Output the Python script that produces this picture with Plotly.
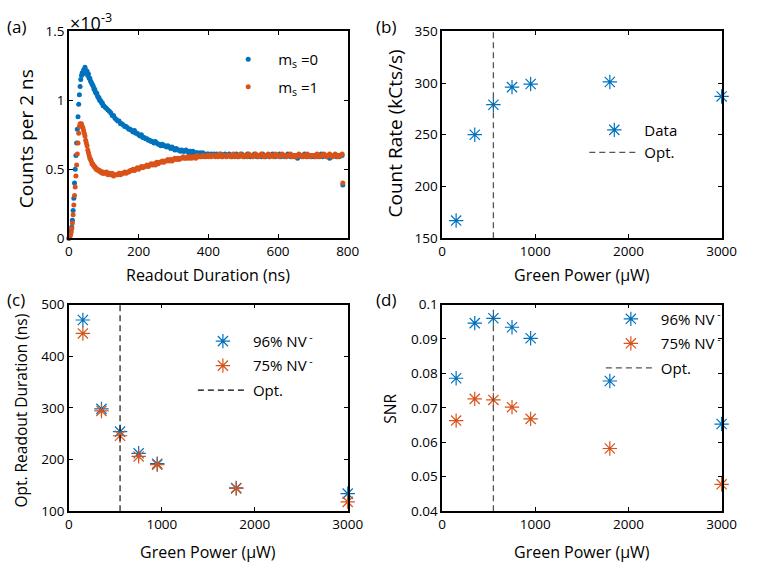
import plotly.graph_objects as go

# ---------------- data ----------------
# (a) readout traces, counts per 2 ns in units of 1e-3
t_early = list(range(0, 100, 2))
t_late = list(range(100, 785, 4))
t_end = [786]
time_ns = t_early + t_late + t_end

ms0_early = [0.00, 0.01, 0.03, 0.05, 0.08, 0.13, 0.20, 0.29, 0.40, 0.50,
             0.60, 0.69, 0.79, 0.88, 0.97, 1.04, 1.10, 1.15, 1.18, 1.20,
             1.19, 1.22, 1.21, 1.24, 1.22, 1.20, 1.21, 1.18, 1.19, 1.16,
             1.16, 1.14, 1.13, 1.12, 1.11, 1.10, 1.08, 1.08, 1.06, 1.05,
             1.05, 1.03, 1.02, 1.02, 1.00, 1.00, 0.99, 0.98, 0.98, 0.96]
ms0_late = [0.96, 0.95, 0.94, 0.93, 0.92, 0.91, 0.89, 0.89, 0.87, 0.86,
            0.85, 0.85, 0.83, 0.83, 0.82, 0.81, 0.81, 0.80, 0.79, 0.79,
            0.78, 0.77, 0.78, 0.76, 0.76, 0.75, 0.74, 0.75, 0.73, 0.73,
            0.72, 0.72, 0.71, 0.71, 0.70, 0.70, 0.69, 0.70, 0.69, 0.68,
            0.68, 0.67, 0.68, 0.67, 0.67, 0.66, 0.67, 0.66, 0.65, 0.66,
            0.65, 0.64, 0.65, 0.64, 0.64, 0.63, 0.64, 0.63, 0.63, 0.64,
            0.63, 0.62, 0.63, 0.62, 0.63, 0.61, 0.62, 0.62, 0.61, 0.62,
            0.61, 0.62, 0.61, 0.60, 0.61, 0.61, 0.60, 0.61, 0.60, 0.61,
            0.60, 0.61, 0.60, 0.60, 0.61, 0.59, 0.60, 0.61, 0.60, 0.60,
            0.61, 0.60, 0.59, 0.60, 0.60, 0.61, 0.59, 0.60, 0.60, 0.61,
            0.60, 0.59, 0.60, 0.61, 0.60, 0.59, 0.60, 0.60, 0.61, 0.60,
            0.59, 0.60, 0.60, 0.59, 0.61, 0.60, 0.59, 0.60, 0.60, 0.59,
            0.60, 0.61, 0.60, 0.59, 0.60, 0.60, 0.61, 0.59, 0.60, 0.60,
            0.59, 0.60, 0.61, 0.60, 0.59, 0.60, 0.60, 0.59, 0.60, 0.58,
            0.59, 0.60, 0.60, 0.59, 0.61, 0.60, 0.59, 0.60, 0.60, 0.59,
            0.60, 0.59, 0.60, 0.60, 0.59, 0.60, 0.61, 0.59, 0.60, 0.60,
            0.59, 0.60, 0.58, 0.60, 0.59, 0.60, 0.60, 0.59, 0.60, 0.59,
            0.60, 0.60]
ms0_end = [0.385]

ms1_early = [0.00, 0.01, 0.02, 0.04, 0.07, 0.11, 0.17, 0.24, 0.31, 0.37,
             0.45, 0.53, 0.61, 0.69, 0.76, 0.81, 0.83, 0.82, 0.83, 0.81,
             0.80, 0.78, 0.76, 0.74, 0.71, 0.69, 0.67, 0.64, 0.62, 0.60,
             0.58, 0.57, 0.56, 0.54, 0.54, 0.53, 0.52, 0.52, 0.51, 0.50,
             0.50, 0.50, 0.49, 0.49, 0.49, 0.48, 0.48, 0.48, 0.47, 0.48]
ms1_late = [0.47, 0.47, 0.48, 0.46, 0.47, 0.46, 0.47, 0.45, 0.46, 0.46,
            0.46, 0.47, 0.46, 0.47, 0.47, 0.48, 0.47, 0.48, 0.48, 0.49,
            0.49, 0.50, 0.49, 0.50, 0.51, 0.50, 0.51, 0.52, 0.51, 0.52,
            0.52, 0.53, 0.52, 0.53, 0.54, 0.53, 0.54, 0.53, 0.55, 0.54,
            0.55, 0.55, 0.56, 0.55, 0.56, 0.56, 0.57, 0.56, 0.57, 0.56,
            0.57, 0.58, 0.57, 0.58, 0.57, 0.58, 0.58, 0.59, 0.58, 0.58,
            0.59, 0.58, 0.59, 0.58, 0.59, 0.59, 0.58, 0.60, 0.59, 0.59,
            0.59, 0.60, 0.59, 0.59, 0.60, 0.59, 0.60, 0.59, 0.60, 0.60,
            0.59, 0.60, 0.59, 0.61, 0.60, 0.59, 0.60, 0.60, 0.59, 0.60,
            0.60, 0.59, 0.60, 0.61, 0.59, 0.60, 0.60, 0.59, 0.61, 0.60,
            0.59, 0.60, 0.60, 0.59, 0.61, 0.60, 0.60, 0.59, 0.60, 0.61,
            0.60, 0.59, 0.60, 0.61, 0.60, 0.59, 0.60, 0.60, 0.61, 0.59,
            0.60, 0.60, 0.59, 0.61, 0.60, 0.60, 0.59, 0.60, 0.61, 0.60,
            0.60, 0.59, 0.60, 0.60, 0.61, 0.59, 0.60, 0.60, 0.59, 0.60,
            0.61, 0.60, 0.59, 0.60, 0.60, 0.59, 0.61, 0.60, 0.59, 0.60,
            0.60, 0.60, 0.59, 0.61, 0.60, 0.59, 0.60, 0.60, 0.61, 0.60,
            0.59, 0.60, 0.61, 0.60, 0.59, 0.60, 0.61, 0.60, 0.59, 0.60,
            0.60, 0.61]
ms1_end = [0.40]

counts_ms0 = ms0_early + ms0_late + ms0_end
counts_ms1 = ms1_early + ms1_late + ms1_end

# (b)-(d) power sweep
green_power = [150, 350, 550, 750, 950, 1800, 3000]
count_rate = [167, 250, 279, 296, 299, 301, 287]
opt_dur_96 = [470, 298, 254, 212, 192, 145, 134]
opt_dur_75 = [444, 294, 246, 206, 190, 144, 118]
snr_96 = [0.0786, 0.0946, 0.0960, 0.0934, 0.0902, 0.0778, 0.0653]
snr_75 = [0.0663, 0.0726, 0.0723, 0.0702, 0.0668, 0.0582, 0.0478]
opt_power = 550

# ---------------- style ----------------
BLUE = "#0072BD"
ORANGE = "#D95319"
FONT = "Open Sans"
TICK_FS = 13.5
XT_FS = 16
LEG_FS = 15

fig = go.Figure()

# (a)
fig.add_trace(go.Scatter(x=time_ns, y=counts_ms0, mode="markers", name="m<sub>s</sub> =0",
                         marker=dict(color=BLUE, size=5), xaxis="x", yaxis="y",
                         legend="legend", legendgroup="a0", cliponaxis=False))
fig.add_trace(go.Scatter(x=time_ns, y=counts_ms1, mode="markers", name="m<sub>s</sub> =1",
                         marker=dict(color=ORANGE, size=5), xaxis="x", yaxis="y",
                         legend="legend", legendgroup="a1", cliponaxis=False))

ast = dict(symbol="asterisk-open", size=12)

# (b)
fig.add_trace(go.Scatter(x=green_power, y=count_rate, mode="markers", name="Data",
                         marker=dict(**ast, color=BLUE, line=dict(color=BLUE, width=1.2)),
                         xaxis="x2", yaxis="y2", legend="legend2", legendgroup="b0", cliponaxis=False))
fig.add_trace(go.Scatter(x=[opt_power, opt_power], y=[150, 350], mode="lines", name="Opt.",
                         line=dict(color="#555555", width=1.3, dash="6px,4px"),
                         xaxis="x2", yaxis="y2", legend="legend2", legendgroup="b1"))

# (c)
fig.add_trace(go.Scatter(x=green_power, y=opt_dur_96, mode="markers", name="96% NV<sup> -</sup>",
                         marker=dict(**ast, color=BLUE, line=dict(color=BLUE, width=1.2)),
                         xaxis="x3", yaxis="y3", legend="legend3", legendgroup="c0", cliponaxis=False))
fig.add_trace(go.Scatter(x=green_power, y=opt_dur_75, mode="markers", name="75% NV<sup> -</sup>",
                         marker=dict(**ast, color=ORANGE, line=dict(color=ORANGE, width=1.2)),
                         xaxis="x3", yaxis="y3", legend="legend3", legendgroup="c1", cliponaxis=False))
fig.add_trace(go.Scatter(x=[opt_power, opt_power], y=[100, 500], mode="lines", name="Opt.",
                         line=dict(color="#000000", width=1.1, dash="6px,4px"),
                         xaxis="x3", yaxis="y3", legend="legend3", legendgroup="c2"))

# (d)
fig.add_trace(go.Scatter(x=green_power, y=snr_96, mode="markers", name="96% NV<sup> -</sup>",
                         marker=dict(**ast, color=BLUE, line=dict(color=BLUE, width=1.2)),
                         xaxis="x4", yaxis="y4", legend="legend4", legendgroup="d0", cliponaxis=False))
fig.add_trace(go.Scatter(x=green_power, y=snr_75, mode="markers", name="75% NV<sup> -</sup>",
                         marker=dict(**ast, color=ORANGE, line=dict(color=ORANGE, width=1.2)),
                         xaxis="x4", yaxis="y4", legend="legend4", legendgroup="d1", cliponaxis=False))
fig.add_trace(go.Scatter(x=[opt_power, opt_power], y=[0.04, 0.0985], mode="lines", name="Opt.",
                         line=dict(color="#555555", width=1.3, dash="6px,4px"),
                         xaxis="x4", yaxis="y4", legend="legend4", legendgroup="d2"))

W, H = 760, 579
def px(x): return x / W
def py(y): return 1 - y / H

dom_x_left = [px(66.7), px(353)]
dom_x_right = [px(450), px(737)]
dom_y_top = [py(236.5), py(23)]
dom_y_bot = [py(518.3), py(305)]

def ax(domain, rng, tickvals, ticktext=None, anchor=None):
    d = dict(domain=domain, range=rng, tickvals=tickvals, showline=True, linecolor="black",
             linewidth=1.6, mirror="ticks", ticks="inside", ticklen=4, tickwidth=1.4,
             tickcolor="black", showgrid=False, zeroline=False, anchor=anchor,
             tickfont=dict(family=FONT, size=TICK_FS, color="black"), fixedrange=True)
    if ticktext is not None:
        d["ticktext"] = ticktext
    return d

fig.update_layout(
    width=W, height=H, margin=dict(l=0, r=0, t=0, b=0),
    paper_bgcolor="white", plot_bgcolor="white",
    font=dict(family=FONT, size=TICK_FS, color="black"),
    xaxis=ax(dom_x_left, [0, 800], [0, 200, 400, 600, 800], anchor="y"),
    yaxis=ax(dom_y_top, [0, 1.5], [0, 0.5, 1, 1.5], ["0", "0.5", "1", "1.5"], anchor="x"),
    xaxis2=ax(dom_x_right, [0, 3000], [0, 1000, 2000, 3000], anchor="y2"),
    yaxis2=ax(dom_y_top, [150, 350], [150, 200, 250, 300, 350], anchor="x2"),
    xaxis3=ax(dom_x_left, [0, 3000], [0, 1000, 2000, 3000], anchor="y3"),
    yaxis3=ax(dom_y_bot, [100, 500], [100, 200, 300, 400, 500], anchor="x3"),
    xaxis4=ax(dom_x_right, [0, 3000], [0, 1000, 2000, 3000], anchor="y4"),
    yaxis4=ax(dom_y_bot, [0.04, 0.1], [0.04, 0.05, 0.06, 0.07, 0.08, 0.09, 0.1],
              ["0.04", "0.05", "0.06", "0.07", "0.08", "0.09", "0.1"], anchor="x4"),
)

leg_common = dict(bgcolor="rgba(0,0,0,0)", borderwidth=0, font=dict(family=FONT, size=LEG_FS, color="black"),
                  xanchor="left", yanchor="top", traceorder="grouped", itemwidth=50)
fig.update_layout(
    legend=dict(**leg_common, x=px(220), y=py(35), tracegroupgap=5),
    legend2=dict(**leg_common, x=px(596), y=py(108), tracegroupgap=0),
    legend3=dict(**leg_common, x=px(194), y=py(326), tracegroupgap=2),
    legend4=dict(**leg_common, x=px(613), y=py(303), tracegroupgap=2),
)

# axis titles (placed explicitly)
titles = [
    dict(text="Readout Duration (ns)", x=px(210), y=py(275), size=XT_FS, angle=0),
    dict(text="Green Power (µW)", x=px(593.5), y=py(275), size=XT_FS, angle=0),
    dict(text="Green Power (µW)", x=px(210), y=py(560), size=XT_FS, angle=0),
    dict(text="Green Power (µW)", x=px(593.5), y=py(560), size=XT_FS, angle=0),
    dict(text="Counts per 2 ns", x=px(22), y=py(134), size=19, angle=-90),
    dict(text="Count Rate (kCts/s)", x=px(402), y=py(128), size=19, angle=-90),
    dict(text="Opt. Readout Duration (ns)", x=px(18), y=py(415), size=15.5, angle=-90),
    dict(text="SNR", x=px(397), y=py(413), size=15.5, angle=-90),
]
for t in titles:
    fig.add_annotation(xref="paper", yref="paper", showarrow=False, xanchor="center", yanchor="middle",
                       text=t["text"], x=t["x"], y=t["y"], textangle=t["angle"],
                       font=dict(family=FONT, size=t["size"], color="black"))

annots = [
    dict(text="(a)", x=px(1), y=py(18)),
    dict(text="(b)", x=px(380), y=py(18)),
    dict(text="(c)", x=px(1), y=py(300)),
    dict(text="(d)", x=px(380), y=py(300)),
]
for a in annots:
    fig.add_annotation(xref="paper", yref="paper", showarrow=False, xanchor="left", yanchor="middle",
                       font=dict(family=FONT, size=17, color="black"), **a)
fig.add_annotation(xref="paper", yref="paper", showarrow=False, xanchor="left", yanchor="middle",
                   text="×10<sup>-3</sup>", x=px(66), y=py(13),
                   font=dict(family=FONT, size=18, color="black"))

fig.write_html("out.html")
